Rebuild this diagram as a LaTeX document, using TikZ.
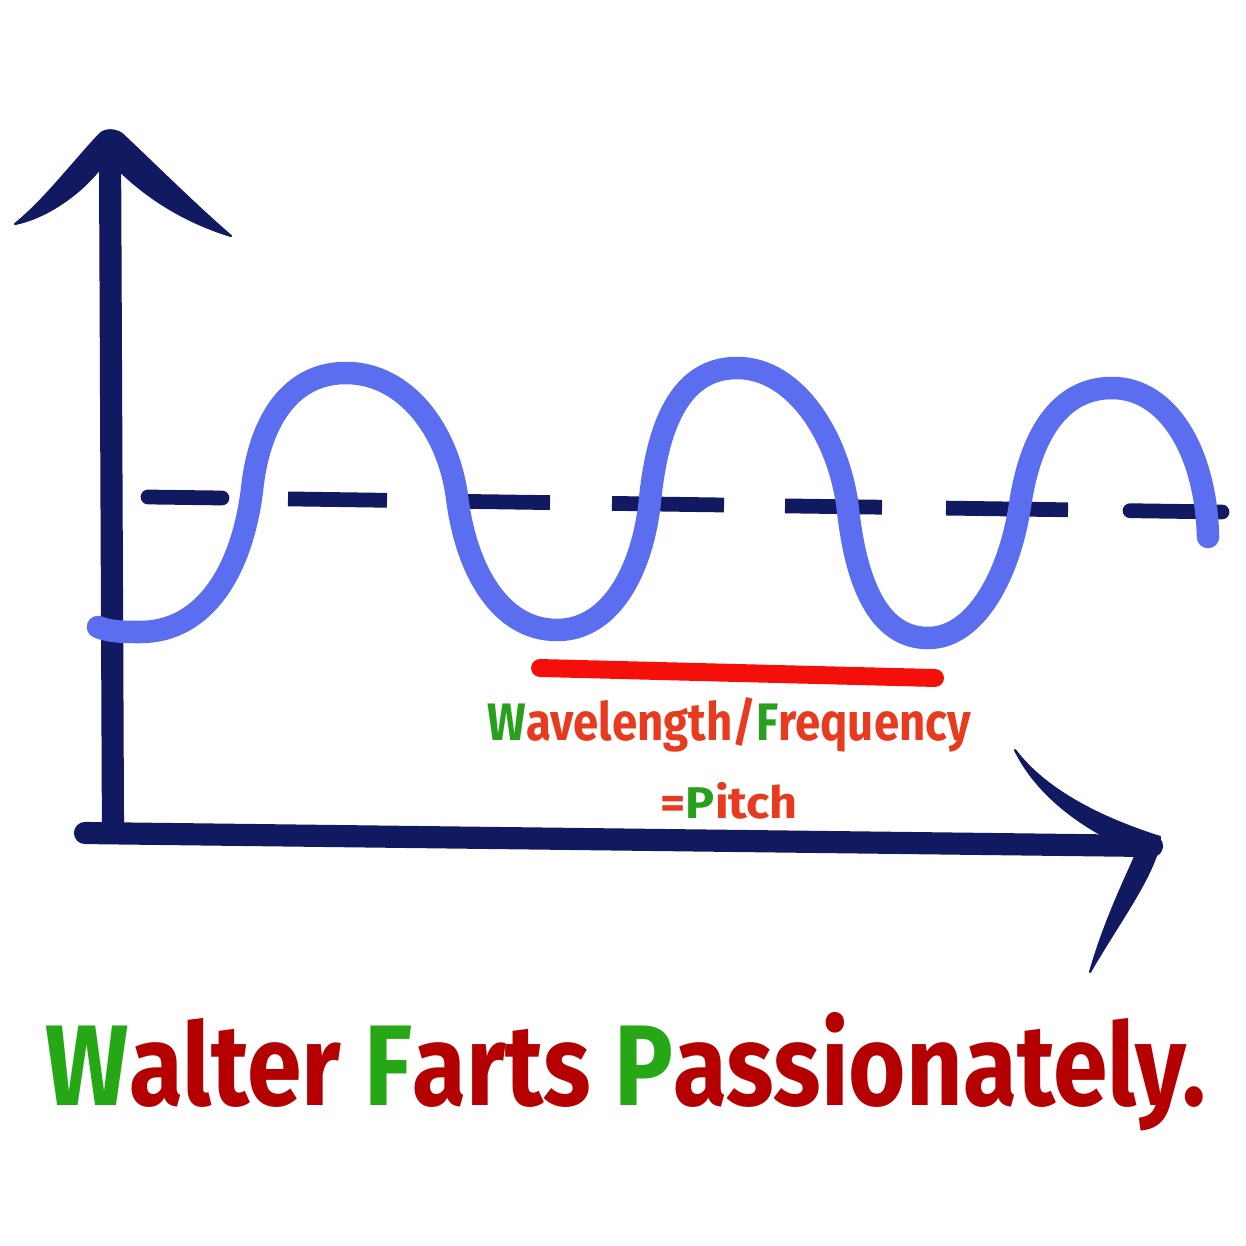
\documentclass[tikz,border=0pt]{standalone}
\usepackage{fontspec}
\usepackage{graphicx}
\newfontfamily\handfont{Fira Sans}
\definecolor{navy}{RGB}{17,25,96}
\definecolor{wavecol}{RGB}{91,110,240}
\definecolor{barred}{RGB}{245,15,10}
\definecolor{txtred}{RGB}{232,58,30}
\definecolor{txtgreen}{RGB}{40,160,30}
\definecolor{titlered}{RGB}{180,0,0}
\definecolor{titlegreen}{RGB}{38,168,22}
\begin{document}
\begin{tikzpicture}[x=0.01cm,y=-0.01cm,
 axisline/.style={navy,line width=6.3pt,line cap=round},
 dashseg/.style={navy,line width=4.2pt},
 wavecurve/.style={wavecol,line width=6.4pt,line cap=round,line join=round},
 headfill/.style={fill=navy,draw=navy,line width=0.6pt,line join=round},
 lbl/.style={inner sep=0pt,anchor=base west,font=\handfont\bfseries}]

\fill[white] (0,0) rectangle (1246,1246);
\useasboundingbox (0,0) rectangle (1246,1246);

% axes
\coordinate (ytop) at (110,150);
\coordinate (origin) at (113,833);
\coordinate (xstart) at (85,833);
\coordinate (xend) at (1152,846);
\draw[axisline,line cap=butt] (ytop) -- (origin);
\draw[axisline] (xstart) -- (xend);

% up arrowhead
\fill[headfill] (100,134) .. controls (75,160) and (45,200) .. (15,224)
  .. controls (45,218) and (80,195) .. (102,166)
  -- (120,171)
  .. controls (155,205) and (195,225) .. (231,236)
  .. controls (195,205) and (155,165) .. (122,134)
  .. controls (115,129) and (105,129) .. (100,134) -- cycle;

% right arrowhead
\fill[headfill] (1015,750) .. controls (1045,790) and (1100,818) .. (1160,837)
  .. controls (1158,870) and (1120,920) .. (1090,972)
  .. controls (1105,920) and (1125,880) .. (1137,852)
  .. controls (1085,830) and (1038,797) .. (1015,750) -- cycle;

% dashed mid line
\draw[dashseg,line cap=round] (148,497) -- (222,498);
\draw[dashseg] (288,498.9) -- (387,500.3);
\draw[dashseg] (450,501.2) -- (550,502.6);
\draw[dashseg] (612,503.4) -- (724,505);
\draw[dashseg] (785,505.9) -- (882,507.2);
\draw[dashseg] (946,508.1) -- (1068,509.8);
\draw[dashseg,line cap=round] (1130,510.7) -- (1222,512);

% wave
\draw[wavecurve] (98,627) .. controls (110,632) and (125,632) .. (140,632)
  .. controls (205,632) and (242,570) .. (252,490)
  .. controls (258,430) and (285,373) .. (346,373)
  .. controls (405,373) and (448,430) .. (457,497)
  .. controls (466,570) and (500,630) .. (557,630)
  .. controls (612,630) and (643,568) .. (650,500)
  .. controls (657,430) and (678,368) .. (737,368)
  .. controls (797,368) and (840,440) .. (848,510)
  .. controls (856,582) and (878,638) .. (928,638)
  .. controls (977,638) and (1010,572) .. (1020,505)
  .. controls (1030,438) and (1058,388) .. (1112,388)
  .. controls (1168,388) and (1206,452) .. (1208,537);

% red bar
\coordinate (barL) at (540,668);
\coordinate (barR) at (935,678);
\draw[barred,line width=5.1pt,line cap=round] (barL) -- (barR);

% labels
\node[lbl] (wl) at (487,740) {\resizebox{4.83cm}{0.43cm}{\textcolor{txtgreen}{W}\textcolor{txtred}{avelength/}\textcolor{txtgreen}{F}\textcolor{txtred}{requency}}};
\node[lbl] (pitch) at (660,818) {\resizebox{1.37cm}{0.36cm}{\textcolor{txtred}{=}\textcolor{txtgreen}{P}\textcolor{txtred}{itch}}};
\node[lbl] (title) at (45,1105) {\resizebox{11.6cm}{0.93cm}{\textcolor{titlegreen}{W}\textcolor{titlered}{alter }\textcolor{titlegreen}{F}\textcolor{titlered}{arts }\textcolor{titlegreen}{P}\textcolor{titlered}{assionately.}}};
\end{tikzpicture}
\end{document}
